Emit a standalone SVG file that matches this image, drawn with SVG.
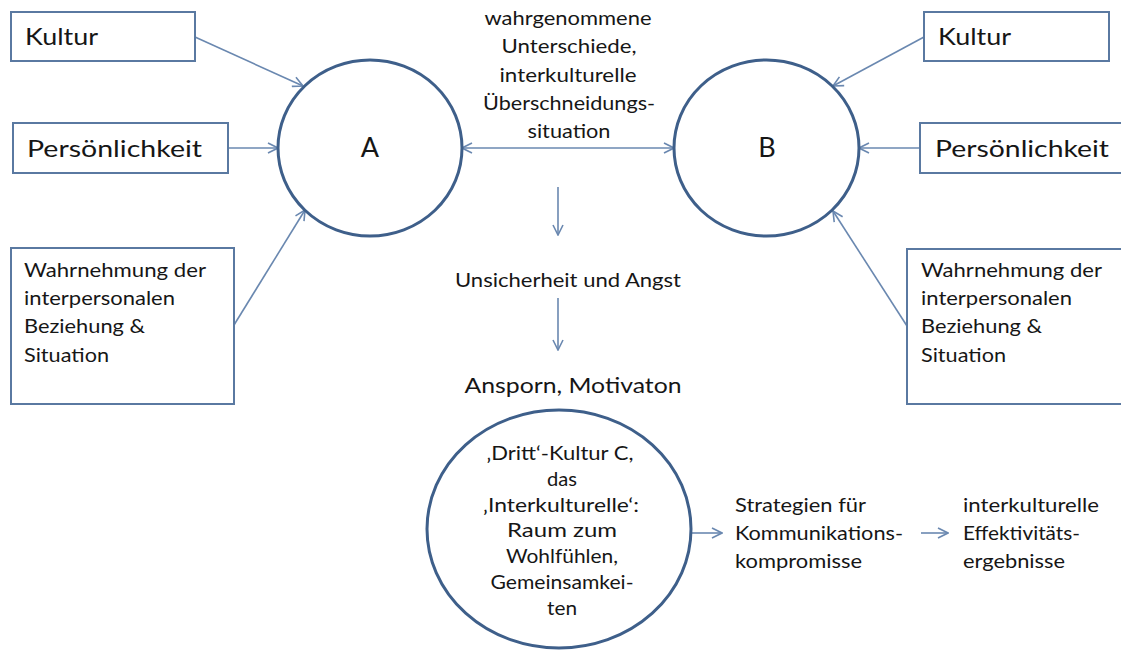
<svg xmlns="http://www.w3.org/2000/svg" width="1121" height="651" viewBox="0 0 1121 651">
<defs>
<style>
.box{fill:#fff;stroke:#5a79a1;stroke-width:2}
.circ{fill:#fff;stroke:#3e5f8a;stroke-width:3}
.con{fill:none;stroke:#6a88b0;stroke-width:1.6}
text{font-family:Lato,"Open Sans","Liberation Sans",sans-serif;fill:#161616}
.t24{font-size:24px}
.t26{font-size:27px}
.t19{font-size:19px}
.t20{font-size:20px}
.t22{font-size:22px}
.mid{text-anchor:middle}
</style>
<marker id="ah" viewBox="0 0 12 12" refX="11" refY="6" markerWidth="12" markerHeight="12" orient="auto-start-reverse" markerUnits="userSpaceOnUse">
<path d="M1,1 L11,6 L1,11" fill="none" stroke="#6a88b0" stroke-width="1.6"/>
</marker>
</defs>
<rect width="1121" height="651" fill="#fff"/>

<g id="connectors">
<line class="con" x1="195" y1="37" x2="303" y2="86" marker-end="url(#ah)"/>
<line class="con" x1="228" y1="148" x2="278" y2="148" marker-end="url(#ah)"/>
<line class="con" x1="234" y1="325" x2="305" y2="210" marker-end="url(#ah)"/>
<line class="con" x1="924" y1="37" x2="833" y2="86" marker-end="url(#ah)"/>
<line class="con" x1="920" y1="148" x2="859" y2="148" marker-end="url(#ah)"/>
<line class="con" x1="907" y1="326" x2="833" y2="211" marker-end="url(#ah)"/>
<line class="con" x1="462" y1="148" x2="674" y2="148" marker-start="url(#ah)" marker-end="url(#ah)"/>
<line class="con" x1="558" y1="187" x2="558" y2="235" marker-end="url(#ah)"/>
<line class="con" x1="558" y1="298" x2="558" y2="350" marker-end="url(#ah)"/>
<line class="con" x1="692" y1="533" x2="722" y2="533" marker-end="url(#ah)"/>
<line class="con" x1="921" y1="533" x2="948" y2="533" marker-end="url(#ah)"/>
</g>

<g id="kultur-a">
<rect class="box" x="11" y="12" width="184" height="49"/>
<text class="t24" x="25" y="45" textLength="73" lengthAdjust="spacingAndGlyphs">Kultur</text>
</g>
<g id="persoenlichkeit-a">
<rect class="box" x="13" y="123" width="215" height="50"/>
<text class="t24" x="27" y="157" textLength="175" lengthAdjust="spacingAndGlyphs">Persönlichkeit</text>
</g>
<g id="wahrnehmung-a">
<rect class="box" x="11" y="248" width="223" height="156"/>
<text class="t19" x="24" y="277" textLength="182" lengthAdjust="spacingAndGlyphs">Wahrnehmung der</text>
<text class="t19" x="24" y="305" textLength="151" lengthAdjust="spacingAndGlyphs">interpersonalen</text>
<text class="t19" x="24" y="333" textLength="121" lengthAdjust="spacingAndGlyphs">Beziehung &amp;</text>
<text class="t19" x="24" y="362" textLength="85" lengthAdjust="spacingAndGlyphs">Situation</text>
</g>
<g id="node-a">
<ellipse class="circ" cx="370" cy="148" rx="92" ry="88"/>
<text class="t26 mid" x="370" y="157">A</text>
</g>

<g id="kultur-b">
<rect class="box" x="924" y="12" width="185" height="49"/>
<text class="t24" x="938" y="45" textLength="73" lengthAdjust="spacingAndGlyphs">Kultur</text>
</g>
<g id="persoenlichkeit-b">
<rect class="box" x="920" y="123" width="220" height="50"/>
<text class="t24" x="935" y="157" textLength="174" lengthAdjust="spacingAndGlyphs">Persönlichkeit</text>
</g>
<g id="wahrnehmung-b">
<rect class="box" x="907" y="249" width="230" height="155"/>
<text class="t19" x="921" y="277" textLength="181" lengthAdjust="spacingAndGlyphs">Wahrnehmung der</text>
<text class="t19" x="921" y="305" textLength="151" lengthAdjust="spacingAndGlyphs">interpersonalen</text>
<text class="t19" x="921" y="333" textLength="121" lengthAdjust="spacingAndGlyphs">Beziehung &amp;</text>
<text class="t19" x="921" y="362" textLength="85" lengthAdjust="spacingAndGlyphs">Situation</text>
</g>
<g id="node-b">
<ellipse class="circ" cx="766.5" cy="148" rx="92.5" ry="88"/>
<text class="t26 mid" x="767" y="157">B</text>
</g>

<g id="unterschiede">
<text class="t20 mid" x="568" y="25" textLength="167" lengthAdjust="spacingAndGlyphs">wahrgenommene</text>
<text class="t20 mid" x="569" y="53" textLength="135" lengthAdjust="spacingAndGlyphs">Unterschiede,</text>
<text class="t20 mid" x="568" y="82" textLength="137" lengthAdjust="spacingAndGlyphs">interkulturelle</text>
<text class="t20 mid" x="569" y="110" textLength="172" lengthAdjust="spacingAndGlyphs">Überschneidungs-</text>
<text class="t20 mid" x="569" y="138" textLength="83" lengthAdjust="spacingAndGlyphs">situation</text>
</g>
<g id="unsicherheit">
<text class="t20 mid" x="568" y="287" textLength="226" lengthAdjust="spacingAndGlyphs">Unsicherheit und Angst</text>
</g>
<g id="ansporn">
<text class="t22 mid" x="573" y="393" textLength="217" lengthAdjust="spacingAndGlyphs">Ansporn, Motivaton</text>
</g>
<g id="node-c">
<ellipse class="circ" cx="559" cy="529" rx="132" ry="119"/>
<text class="t20 mid" x="560" y="460" textLength="147" lengthAdjust="spacingAndGlyphs">‚Dritt‘-Kultur C,</text>
<text class="t20 mid" x="562" y="486" textLength="30" lengthAdjust="spacingAndGlyphs">das</text>
<text class="t20 mid" x="561" y="512" textLength="156" lengthAdjust="spacingAndGlyphs">‚Interkulturelle‘:</text>
<text class="t20 mid" x="562" y="537" textLength="110" lengthAdjust="spacingAndGlyphs">Raum zum</text>
<text class="t20 mid" x="562" y="563" textLength="112" lengthAdjust="spacingAndGlyphs">Wohlfühlen,</text>
<text class="t20 mid" x="562" y="589" textLength="143" lengthAdjust="spacingAndGlyphs">Gemeinsamkei-</text>
<text class="t20 mid" x="562" y="615" textLength="30" lengthAdjust="spacingAndGlyphs">ten</text>
</g>
<g id="strategien">
<text class="t20" x="735" y="512" textLength="131" lengthAdjust="spacingAndGlyphs">Strategien für</text>
<text class="t20" x="735" y="540" textLength="168" lengthAdjust="spacingAndGlyphs">Kommunikations-</text>
<text class="t20" x="735" y="568" textLength="127" lengthAdjust="spacingAndGlyphs">kompromisse</text>
</g>
<g id="effektivitaet">
<text class="t20" x="963" y="512" textLength="136" lengthAdjust="spacingAndGlyphs">interkulturelle</text>
<text class="t20" x="963" y="540" textLength="117" lengthAdjust="spacingAndGlyphs">Effektivitäts-</text>
<text class="t20" x="963" y="568" textLength="102" lengthAdjust="spacingAndGlyphs">ergebnisse</text>
</g>
</svg>
